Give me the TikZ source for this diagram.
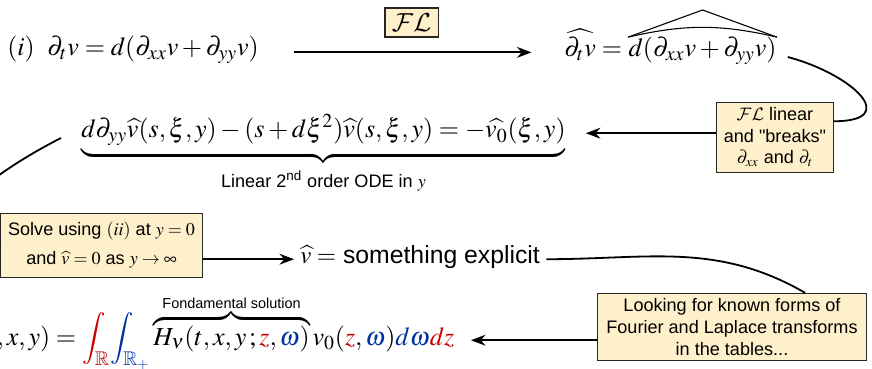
\documentclass[tikz,border=0pt]{standalone}
\usepackage{mathptmx}
\usepackage{amssymb}
\DeclareMathAlphabet{\mathcal}{OMS}{cmsy}{m}{n}
\usepackage[no-math]{fontspec}
\setmainfont{Liberation Sans}
\usetikzlibrary{arrows.meta, positioning}

\definecolor{notefill}{RGB}{255,240,204}
\definecolor{intred}{RGB}{204,0,0}
\definecolor{intblue}{RGB}{0,51,160}

\newcommand{\eqsize}{\fontsize{14.4}{17}\selectfont}

\begin{document}
\begin{tikzpicture}[
    x=0.553pt, y=0.553pt,
    >={Stealth[length=8pt, width=6pt]}, % arrow tips
    eqn/.style={inner sep=0pt, font=\eqsize}, % the formulas
    notebox/.style={draw=black!85, fill=notefill, align=center, inner xsep=4pt, inner ysep=3pt}, % yellow remarks
    flow/.style={->, line width=1pt}, % arrows between steps
    link/.style={line width=1pt}, % plain curves
    hatline/.style={line width=0.6pt} % the wide hat
]

    % Frame of the picture
    \useasboundingbox (0,0) rectangle (872,-369);
    \clip (0,0) rectangle (872,-369);

    % First line: the equation and its transform
    \node[eqn, anchor=base] (lab) at (21,-56) {$(i)$};
    \node[eqn, anchor=base west] (eq1) at (47,-56) {$\partial_t v = d(\partial_{xx}v+\partial_{yy}v)$};
    \node[eqn, anchor=base west] (eq2l) at (564,-57) {$\widehat{\partial_t v} ={}$};
    \node[eqn, anchor=base west] (eq2r) at (eq2l.base east) {$d(\partial_{xx}v+\partial_{yy}v)$};
    \draw[flow, shorten <=19pt, shorten >=18pt] ([yshift=2pt]eq1.base east) -- node[notebox, font=\eqsize, above=8pt] (fl) {$\mathcal{FL}$} ([yshift=2pt]eq1.base east -| eq2l.west);

    % Wide hat over the right hand side
    \draw[hatline] (eq2r.north west) -- ([yshift=15pt]eq2r.north) -- (eq2r.north east);
    \draw[hatline] (eq2r.north west) to[bend left=13] (eq2r.north east);

    % Second line: the ODE
    \node[notebox] (fltag) at (775,-137) {$\mathcal{FL}$ linear\\and \textquotedbl breaks\textquotedbl\\$\partial_{xx}$ and $\partial_t$};
    \node[eqn, inner xsep=11pt, anchor=base west] (eq3) at (61,-138) {$\underbrace{d\partial_{yy}\widehat{v}(s,\xi,y)-(s+d\xi^2)\widehat{v}(s,\xi,y) = -\widehat{v_0}(\xi,y)\rule[-6pt]{0pt}{0pt}}_{\mbox{\normalsize\rule{0pt}{11pt}Linear 2\textsuperscript{nd} order ODE in $y$}}$};
    \draw[link] ([xshift=6pt]eq2r.base east) to[out=-15, in=0, looseness=2.2] (fltag.15);
    \draw[flow] (fltag.west |- eq3.mid east) -- (eq3.mid east);

    % Third line: solving it
    \node[notebox, inner ysep=5pt, anchor=west] (solve) at (0.5,-245) {Solve using $(ii)$ at $y=0$\\[4pt]and $\widehat{v}=0$ as $y\to\infty$};
    \node[anchor=base west, font=\fontsize{13.7}{16}\selectfont] (expl) at (294,-264) {$\widehat{v} =$ something explicit};
    \draw[link] (eq3.base west) to[out=207, in=180, looseness=2] (solve.west);
    \draw[flow] (solve.east |- expl.mid west) -- (expl.mid west);

    % Last line: the explicit solution
    \node[notebox, inner xsep=5pt] (tables) at (732,-327) {Looking for known forms of\\Fourier and Laplace transforms\\in the tables...};
    \node[eqn, inner xsep=9pt, anchor=base east] (fsol) at (471,-345) {$v(t,x,y) = \displaystyle\textcolor{intred}{\int_{\mathbb{R}}}\textcolor{intblue}{\int_{\mathbb{R}_+}}\overbrace{H_\nu(t,x,y\,;\textcolor{intred}{z},\textcolor{intblue}{\omega})}^{\raisebox{-3pt}{\footnotesize Fondamental solution}}v_0(\textcolor{intred}{z},\textcolor{intblue}{\omega})\textcolor{intblue}{d\omega}\textcolor{intred}{dz}$};
    \draw[link] (expl.mid east) to[out=0, in=150] (tables.25);
    \draw[flow] (tables.west |- fsol.mid east) -- (fsol.mid east);

\end{tikzpicture}
\end{document}
